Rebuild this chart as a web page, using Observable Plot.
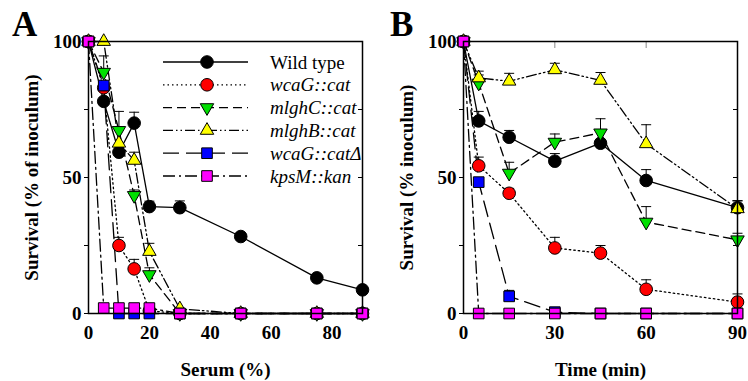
<!DOCTYPE html>
<html><head><meta charset="utf-8">
<script src="https://cdn.jsdelivr.net/npm/d3@7"></script>
<script src="https://cdn.jsdelivr.net/npm/@observablehq/plot@0.6"></script>
<style>
body{margin:0;background:#fff;}
#wrap{position:relative;width:748px;height:381px;display:flex;}
.panel{position:relative;width:374px;height:381px;}
svg{overflow:visible;}
.panel svg text{font-family:"Liberation Serif","Times New Roman",Times,serif !important;font-size:19px !important;font-weight:bold !important;fill:#000 !important;}
.panel svg text.leg{font-weight:normal !important;}
.panel svg text.leg.it{font-style:italic !important;}
.panel svg text.letter{font-size:35px !important;}
</style></head><body>
<div id="wrap"><div class="panel" id="pa"></div><div class="panel" id="pb"></div></div>
<script>
// ---- data ----
const seriesNames = ["Wild type","wcaG::cat","mlghC::cat","mlghB::cat","wcaG::catΔ","kpsM::kan"];

// Panel A: survival vs serum concentration
const serumA = [0,5,10,15,20,30,50,75,90];
const wtA      = [100,78,59.3,70,39.3,38.9,28.3,13.1,8.7];
const wcaGA    = [100,83,25,16.4,1,0,0,0,0];
const mlghCA   = [100,88.7,67.3,43.4,14.3,0,0,0,0];
const mlghBA   = [100,100,62.6,56.3,22.8,1.7,0,0,0];
const wcaGdA   = [100,83.8,0,0,0,0,0,0,0];
const kpsMA    = [100,2,2,2,2,0,0,0,0];
const wtAerr    = [0,0,0,4,2,2.5,0,0,0];
const wcaGAerr  = [0,0,3,3.5,0,0,0,0,0];
const mlghCAerr = [0,6,7,2,2.5,0,0,0,0];
const mlghBAerr = [0,0,0,3,3,0,0,0,0];
const wcaGdAerr = [0,0,0,0,0,0,0,0,0];
const kpsMAerr  = [0,0,0,0,0,0,0,0,0];

// Panel B: survival vs time
const timeB = [0,5,15,30,45,60,90];
const wtB      = [100,70.8,64.8,56,62.6,48.9,38.9];
const wcaGB    = [100,54.3,44.2,24.1,22.2,8.9,4.2];
const mlghCB   = [100,84.7,51.6,63,66.4,33.6,27.1];
const mlghBB   = [100,86.6,85.4,89.6,85.7,62.4,38.5];
const wcaGdB   = [100,48.3,6.3,0.5,0,0,0];
const kpsMB    = [100,0,0,0,0,0,0];
const wtBerr    = [0,3.5,2.5,2.8,0,4,2.5];
const wcaGBerr  = [0,3.2,1.8,3.9,2.8,3.5,3];
const mlghCBerr = [0,3,4,3,5.2,5.7,2.4];
const mlghBBerr = [0,2.5,2.9,2.4,2.9,7,3];
const wcaGdBerr = [0,0,2.2,0,0,0,0];
const kpsMBerr  = [0,0,0,0,0,0,0];

const xTicksA = [0,20,40,60,80];
const xTicksB = [0,30,60,90];
const yTickLabels = [0,50,100];
const yTicksAll = [0,25,50,75,100];

// ---- styles ----
const colors = ["#000000","#ff0000","#00e000","#ffff00","#0000ff","#ff00ff"];
const dashes = [null,"1.5,3","9,5","10,3,1.5,3,1.5,3","16,7","12,4,2,4"];
const sqrt3 = Math.sqrt(3);
const triDown = {draw(ctx,size){const y=-Math.sqrt(size/(sqrt3*3));ctx.moveTo(0,-2*y);ctx.lineTo(-sqrt3*y,y);ctx.lineTo(sqrt3*y,y);ctx.closePath();}};
const cap = {draw(ctx){ctx.moveTo(-5,0);ctx.lineTo(5,0);}};
const symbols = ["circle","circle",triDown,"triangle","square","square"];
const d3symbols = [d3.symbolCircle,d3.symbolCircle,triDown,d3.symbolTriangle,d3.symbolSquare,d3.symbolSquare];
const radii = [6.3,6.3,5,5,6,6];
const font = "'Liberation Serif', 'Times New Roman', Times, serif";

function rowsFor(xs, vals, errs){
  const rows=[];
  vals.forEach((v,i)=>xs.forEach((x,j)=>rows.push({s:i,x,y:v[j],e:errs[i][j]})));
  return rows;
}

function panel(xs, vals, errs, o){
  const rows = rowsFor(xs, vals, errs);
  const eb = rows.filter(d=>d.e>0);
  const marks = [
    Plot.ruleX(eb,{x:"x",y1:"y",y2:d=>d.y+d.e,stroke:"black",strokeWidth:1}),
    Plot.dot(eb,{x:"x",y:d=>d.y+d.e,symbol:cap,r:3,stroke:"black",strokeWidth:1,fill:"none"})
  ];
  vals.forEach((v,i)=>marks.push(Plot.line(rows.filter(d=>d.s===i),{x:"x",y:"y",stroke:"black",strokeWidth:1.3,strokeDasharray:dashes[i]})));
  vals.forEach((v,i)=>marks.push(Plot.dot(rows.filter(d=>d.s===i),{x:"x",y:"y",symbol:symbols[i],r:radii[i],fill:colors[i],stroke:"black",strokeWidth:1})));
  const svg = Plot.plot({
    width:374,height:381,marginLeft:o.ml,marginRight:o.mr,marginTop:41,marginBottom:68,
    x:{domain:[0,90]},y:{domain:[0,100]},
    style:{background:"white",overflow:"visible"},
    marks:[
      Plot.axisX({ticks:o.xticks,tickSize:0,tickPadding:12,label:o.xlabel,labelAnchor:"center",labelArrow:"none",labelOffset:62}),
      Plot.axisY({ticks:yTicksAll,tickFormat:d=>yTickLabels.includes(d)?String(d):"",tickSize:4,tickPadding:3,label:o.ylabel,labelAnchor:"center",labelArrow:"none",labelOffset:64}),
      Plot.axisY({anchor:"right",ticks:[25,50,75],tickSize:-5,tickFormat:()=>"",label:null}),
      ...(o.topTicks?[Plot.axisX({anchor:"top",ticks:o.topTicks,tickSize:-6,tickFormat:()=>"",label:null,stroke:"#888"})]:[]),
      ...marks,
      Plot.frame({stroke:"black",strokeWidth:1.5})
    ]
  });
  d3.select(svg).selectAll("text").style("font-family",font).style("font-size","19px").style("font-weight","bold").style("fill","black");
  return svg;
}

const valsA=[wtA,wcaGA,mlghCA,mlghBA,wcaGdA,kpsMA];
const errsA=[wtAerr,wcaGAerr,mlghCAerr,mlghBAerr,wcaGdAerr,kpsMAerr];
const valsB=[wtB,wcaGB,mlghCB,mlghBB,wcaGdB,kpsMB];
const errsB=[wtBerr,wcaGBerr,mlghCBerr,mlghBBerr,wcaGdBerr,kpsMBerr];

const svgA = panel(serumA,valsA,errsA,{ml:88,mr:12,xticks:xTicksA,xlabel:"Serum (%)",ylabel:"Survival (% of inoculum)"});
const svgB = panel(timeB,valsB,errsB,{ml:89,mr:11,xticks:xTicksB,xlabel:"Time (min)",ylabel:"Survival (% inoculum)",topTicks:[30,60]});
document.getElementById("pa").appendChild(svgA);
document.getElementById("pb").appendChild(svgB);

// panel letters
[[svgA,"A",12],[svgB,"B",16]].forEach(([s,t,x])=>{
  d3.select(s).append("text").attr("class","letter").attr("x",x).attr("y",36).style("font-family",font).style("font-weight","bold").style("font-size","35px").attr("text-anchor","start").attr("fill","black").text(t);
});

// legend in panel A
const lg = d3.select(svgA).append("g").attr("text-anchor","start");
seriesNames.forEach((n,i)=>{
  const y = 62 + i*22.8;
  lg.append("line").attr("x1",163).attr("x2",248).attr("y1",y).attr("y2",y).attr("stroke","black").attr("stroke-width",1.3).attr("stroke-dasharray",dashes[i]);
  lg.append("path").attr("d",d3.symbol(d3symbols[i],radii[i]*radii[i]*Math.PI)()).attr("transform",`translate(207,${y})`).attr("fill",colors[i]).attr("stroke","black");
  lg.append("text").attr("class",i===0?"leg":"leg it").attr("x",270).attr("y",y).attr("dy","0.35em").style("font-family",font).style("font-size","19px").style("font-weight","normal").style("font-style",i===0?"normal":"italic").attr("fill","black").text(n);
});
</script></body></html>
